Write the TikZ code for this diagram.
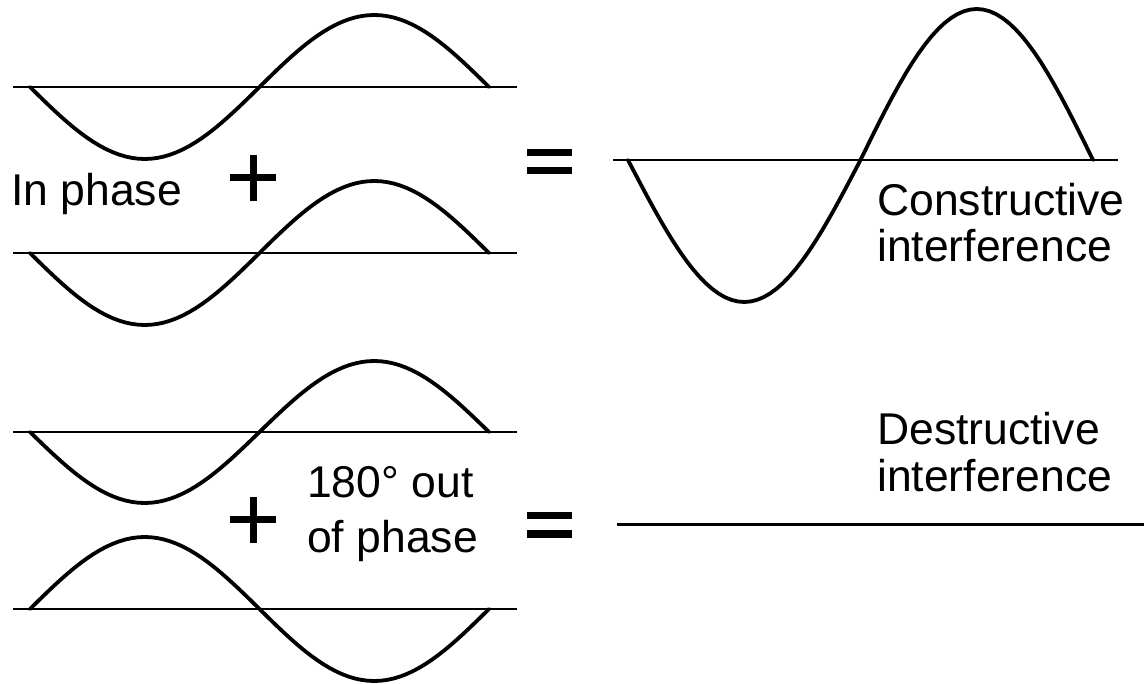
\documentclass[tikz,border=0pt]{standalone}
\usepackage{fontspec}
\setmainfont{Liberation Sans}
\usetikzlibrary{positioning}

\tikzset{
  axisline/.style={line width=1.6pt},
  wave/.style={line width=3.8pt, line join=round, line cap=round},
  signbar/.style={line width=7pt},
  label/.style={font=\fontsize{44.5}{46}\selectfont, inner sep=0pt, anchor=base west}
}

\begin{document}
\begin{tikzpicture}[x=1pt, y=-1pt]
    \useasboundingbox (0,0) rectangle (1144,684);
    % in phase pair
    \draw[axisline] (13,87) -- (517,87);
    \draw[wave] plot[domain=0:360, samples=73] ({30+\x/360*459}, {87+72*sin(\x)});
    \draw[axisline] (13,253) -- (517,253);
    \draw[wave] plot[domain=0:360, samples=73] ({30+\x/360*459}, {253+72*sin(\x)});
    % out of phase pair
    \draw[axisline] (13,432) -- (517,432);
    \draw[wave] plot[domain=0:360, samples=73] ({30+\x/360*459}, {432+71*sin(\x)});
    \draw[axisline] (13,609) -- (517,609);
    \draw[wave] plot[domain=0:360, samples=73] ({30+\x/360*459}, {609-72*sin(\x)});
    % sums
    \draw[axisline] (613,160) -- (1118,160);
    \draw[wave] plot[domain=0:180, samples=37] ({628+\x/360*465}, {160+142*sin(\x)})
      -- plot[domain=180:360, samples=37] ({628+\x/360*465}, {160+151*sin(\x)});
    \draw[line width=3pt] (617,525) -- (1144,525);
    % plus and equals signs
    \foreach \yc in {178,520} {
      \draw[signbar] (230,\yc) -- (276,\yc);
      \draw[signbar] (253,\yc-23) -- (253,\yc+23);
    }
    \foreach \ya/\yb in {153/171,516/534} {
      \draw[signbar] (527,\ya) -- (572,\ya);
      \draw[signbar] (527,\yb) -- (572,\yb);
    }
    % labels
    \node[label] (inphase) at (11,206) {In phase};
    \node[label] (cons) at (877,216) {Constructive};
    \node[label] (consint) at (877,262) {interference};
    \node[label] (outa) at (307,497) {180° out};
    \node[label] (outb) at (307,552) {of phase};
    \node[label] (dest) at (877,445) {Destructive};
    \node[label] (destint) at (877,492) {interference};
\end{tikzpicture}
\end{document}
